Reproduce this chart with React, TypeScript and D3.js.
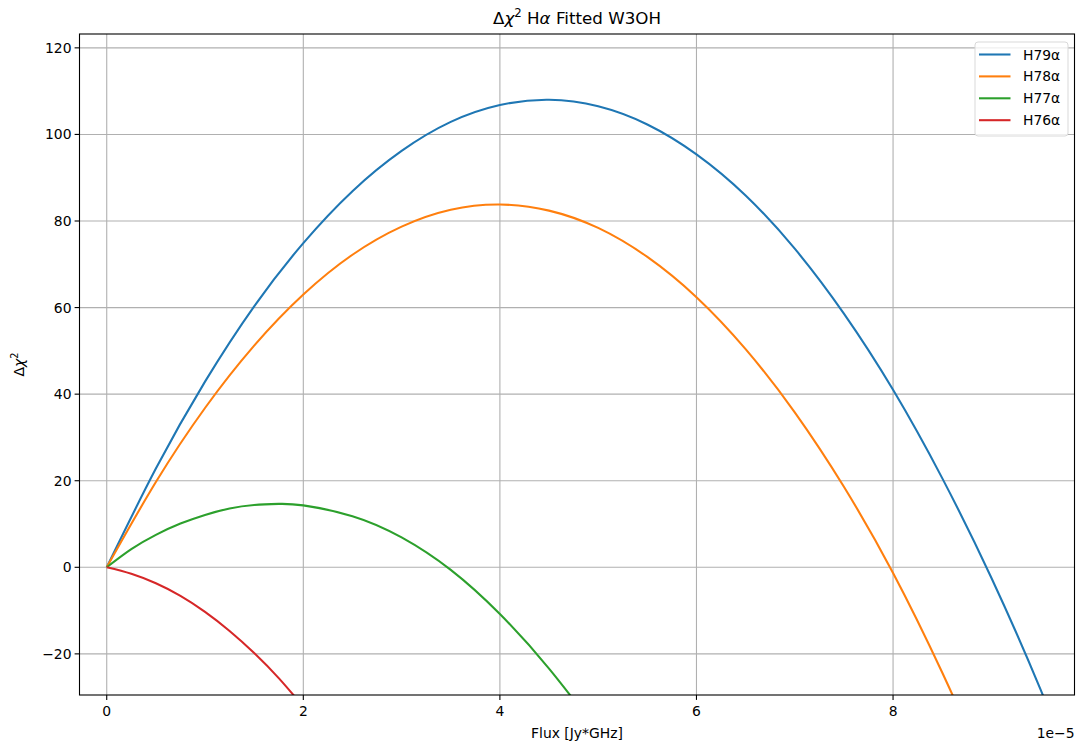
import React from "react";
import * as d3 from "d3";

const xs = [0, 0.5, 1, 1.5, 2, 2.5, 3, 3.5, 4, 4.5, 5, 5.5, 6, 6.5, 7, 7.5, 8, 8.5, 9, 9.5, 10];
const h79 = [0, 22.8, 42.9, 60.3, 74.9, 86.9, 96.2, 102.9, 106.8, 108.0, 106.5, 102.3, 95.4, 85.9, 73.6, 58.6, 41.0, 20.6, -2.4, -28.2, -56.6];
const h78 = [0, 19.7, 36.8, 51.2, 63.0, 72.2, 78.7, 82.6, 83.8, 82.4, 78.4, 71.7, 62.4, 50.4, 35.8, 18.6, -1.3, -24.3, -49.5];
const xsG = [0, 0.25, 0.5, 0.75, 1, 1.25, 1.5, 1.75, 2, 2.5, 3, 3.5, 4, 4.5, 5];
const h77 = [0, 4.2, 7.5, 10.1, 12.1, 13.6, 14.4, 14.65, 14.3, 11.8, 6.9, -0.6, -10.8, -23.4, -38.0];
const xsR = [0, 0.25, 0.5, 0.75, 1, 1.25, 1.5, 1.75, 2];
const h76 = [0, -1.5, -3.7, -6.6, -10.3, -14.7, -19.8, -25.6, -32.2];

const seriesNames = ["H79α", "H78α", "H77α", "H76α"];
const seriesColors = ["#1f77b4", "#ff7f0e", "#2ca02c", "#d62728"];
const xTicks = [0, 2, 4, 6, 8];
const yTicks = [-20, 0, 20, 40, 60, 80, 100, 120];

const W = 1078, H = 745;
const L = 79.5, R = 1074.5, T = 34, B = 695;
const FONT = "DejaVu Sans, sans-serif";

export default function App() {
  const x = d3.scaleLinear().domain([-0.277, 9.846]).range([L, R]);
  const y = d3.scaleLinear().domain([-29.5, 123.2]).range([B, T]);
  const line = d3
    .line<[number, number]>()
    .x((d) => x(d[0]))
    .y((d) => y(d[1]))
    .curve(d3.curveNatural);

  const series: [number, number][][] = [
    xs.slice(0, h79.length).map((v, i) => [v, h79[i]]),
    xs.slice(0, h78.length).map((v, i) => [v, h78[i]]),
    xsG.map((v, i) => [v, h77[i]]),
    xsR.map((v, i) => [v, h76[i]]),
  ];

  const cx = (L + R) / 2;

  return (
    <svg
      width={W}
      height={H}
      style={{ position: "absolute", left: 0, top: 0, background: "#fff" }}
      fontFamily={FONT}
    >
      <defs>
        <clipPath id="plotclip">
          <rect x={L} y={T} width={R - L} height={B - T} />
        </clipPath>
      </defs>
      <rect x={0} y={0} width={W} height={H} fill="#fff" />
      {xTicks.map((t) => (
        <line key={"gx" + t} x1={x(t)} x2={x(t)} y1={T} y2={B} stroke="#b0b0b0" strokeWidth={1.1} />
      ))}
      {yTicks.map((t) => (
        <line key={"gy" + t} x1={L} x2={R} y1={y(t)} y2={y(t)} stroke="#b0b0b0" strokeWidth={1.1} />
      ))}
      <g clipPath="url(#plotclip)">
        {series.map((s, i) => (
          <path key={i} d={line(s) || ""} fill="none" stroke={seriesColors[i]} strokeWidth={2.08} />
        ))}
      </g>
      <rect x={L} y={T} width={R - L} height={B - T} fill="none" stroke="#000" strokeWidth={1.1} />
      {xTicks.map((t) => (
        <g key={"xt" + t}>
          <line x1={x(t)} x2={x(t)} y1={B} y2={B + 4.9} stroke="#000" strokeWidth={1.1} />
          <text x={x(t)} y={B + 21} fontSize={13.9} textAnchor="middle" fill="#000">
            {t}
          </text>
        </g>
      ))}
      {yTicks.map((t) => (
        <g key={"yt" + t}>
          <line x1={L - 4.9} x2={L} y1={y(t)} y2={y(t)} stroke="#000" strokeWidth={1.1} />
          <text x={L - 8} y={y(t) + 5} fontSize={13.9} textAnchor="end" fill="#000">
            {t < 0 ? "\u2212" + Math.abs(t) : t}
          </text>
        </g>
      ))}
      <text x={cx} y={738} fontSize={13.9} textAnchor="middle" fill="#000">
        Flux [Jy*GHz]
      </text>
      <text x={R} y={738} fontSize={13.9} textAnchor="end" fill="#000">
        1e−5
      </text>
      <text transform={`translate(24, ${(T + B) / 2}) rotate(-90)`} fontSize={13.9} textAnchor="middle" fill="#000">
        Δ<tspan fontStyle="italic">χ</tspan>
        <tspan fontSize={9.7} dy={-6}>2</tspan>
      </text>
      <text x={cx} y={24} fontSize={16.7} textAnchor="middle" fill="#000">
        Δ<tspan fontStyle="italic">χ</tspan>
        <tspan fontSize={11.7} dy={-7}>2</tspan>
        <tspan dy={7}> H</tspan>
        <tspan fontStyle="italic">α</tspan> Fitted W3OH
      </text>
      <rect x={975} y={42} width={93} height={94} rx={3} fill="#fff" fillOpacity={0.8} stroke="#d9d9d9" strokeWidth={1} />
      {seriesNames.map((n, i) => {
        const yy = 54.5 + i * 21.9;
        return (
          <g key={n}>
            <line x1={979} x2={1010.5} y1={yy} y2={yy} stroke={seriesColors[i]} strokeWidth={2.08} />
            <text x={1023} y={yy + 5} fontSize={13.9} fill="#000">
              {n}
            </text>
          </g>
        );
      })}
    </svg>
  );
}
